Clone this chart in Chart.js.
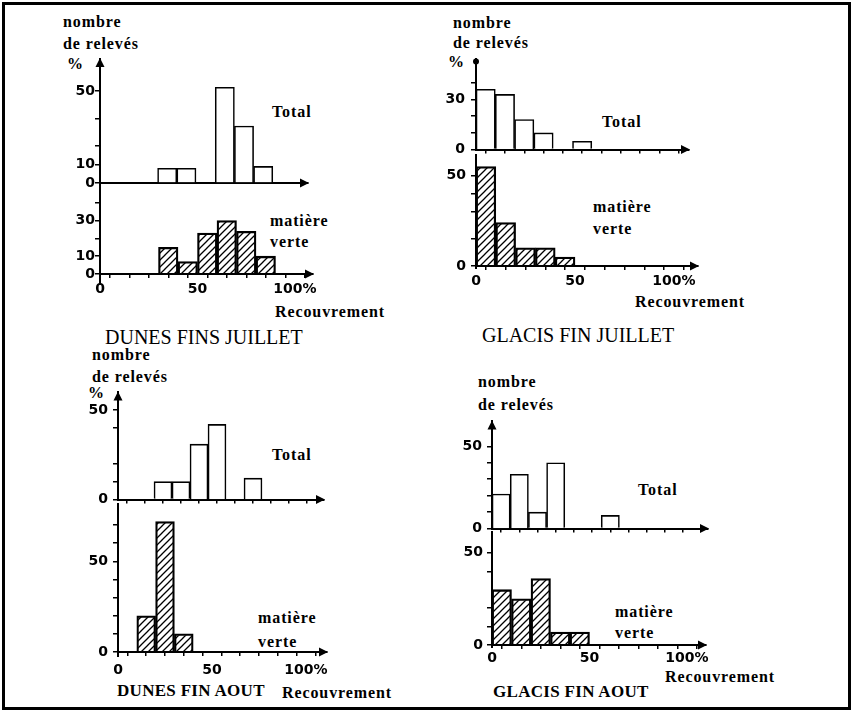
<!DOCTYPE html>
<html><head><meta charset="utf-8">
<script src="https://cdn.jsdelivr.net/npm/chart.js@4.4.0/dist/chart.umd.min.js"></script>
<style>
html,body{margin:0;padding:0;background:#fff;width:855px;height:714px;overflow:hidden;position:relative;}
#frame{position:absolute;left:2px;top:2px;width:849px;height:708px;border:3px solid #000;box-sizing:border-box;}
canvas{position:absolute;}
.t{position:absolute;white-space:nowrap;color:#000;line-height:1;transform:translateY(-50%);}
.lab{font-family:'Liberation Serif';font-weight:bold;font-size:16px;letter-spacing:0.9px;}
.ttl{font-family:'Liberation Serif';font-size:20px;}
.ttlb{font-family:'Liberation Serif';font-weight:bold;font-size:17px;letter-spacing:0.3px;}
</style></head><body>
<div id="frame"></div>
<script>
// ---- data (percent of relevés per 10% cover class) ----
const binStarts = [0,10,20,30,40,50,60,70,80,90];
const dunesJuilletTotal  = [0,0,0,8,8,0,52,31,9,0];
const dunesJuilletVerte  = [0,0,0,15,7,23,30,24,10,0];
const glacisJuilletTotal = [36,33,18,10,0,5,0,0,0,0];
const glacisJuilletVerte = [55,24,10,10,5,0,0,0,0,0];
const dunesAoutTotal     = [0,0,10,10,31,42,0,12,0,0];
const dunesAoutVerte     = [0,20,72,10,0,0,0,0,0,0];
const glacisAoutTotal    = [21,33,10,40,0,0,8,0,0,0];
const glacisAoutVerte    = [30,25,36,7,7,0,0,0,0,0];

// ---- ticks ----
const xTickValues = [0,10,20,30,40,50,60,70,80,90,100];
const xTickLabels = {0:'0', 50:'50', 100:'100%'};
const djTotalYTicks = [0,10,20,35,50];   const djTotalYLabels = [0,10,50];
const djVerteYTicks = [0,10,20,30,40];   const djVerteYLabels = [0,10,30];
const gjTotalYTicks = [0,10,20,30,40];   const gjTotalYLabels = [0,30];
const gjVerteYTicks = [0,15,30,40,50];   const gjVerteYLabels = [0,50];
const daTotalYTicks = [0,10,20,40,50];   const daTotalYLabels = [0,50];
const daVerteYTicks = [0,10,20,30,40,50,60,70]; const daVerteYLabels = [0,50];
const gaTotalYTicks = [0,10,20,30,40,50]; const gaTotalYLabels = [0,50];
const gaVerteYTicks = [0,10,20,40,50];   const gaVerteYLabels = [0,50];

// ---- layout (pixel geometry of each small plot) ----
const plots = [
 {vals:dunesJuilletTotal, hatch:false, yT:djTotalYTicks, yL:djTotalYLabels, xlab:false, xmarks:false, top:'arrow', ext:0,
  x0:100, xPx:1.92, xEnd:308, y0:183, yPx:1.84, yTop:59, yPad:0, xPad:3},
 {vals:dunesJuilletVerte, hatch:true, yT:djVerteYTicks, yL:djVerteYLabels, xlab:true, xmarks:true, top:'none', ext:11,
  x0:100, xPx:1.95, xEnd:313, y0:274, yPx:1.78, yTop:183, yPad:0, xPad:3},
 {vals:glacisJuilletTotal, hatch:false, yT:gjTotalYTicks, yL:gjTotalYLabels, xlab:false, xmarks:true, top:'dot', ext:0,
  x0:476, xPx:1.93, xEnd:689, y0:154, yPx:1.8, yTop:57, yPad:6, xPad:3},
 {vals:glacisJuilletVerte, hatch:true, yT:gjVerteYTicks, yL:gjVerteYLabels, xlab:true, xmarks:true, top:'none', ext:3,
  x0:476, xPx:1.98, xEnd:698, y0:266, yPx:1.83, yTop:154, yPad:5, xPad:3},
 {vals:dunesAoutTotal, hatch:false, yT:daTotalYTicks, yL:daTotalYLabels, xlab:false, xmarks:true, top:'arrow', ext:0,
  x0:118, xPx:1.8, xEnd:324, y0:503, yPx:1.87, yTop:391, yPad:5, xPad:3},
 {vals:dunesAoutVerte, hatch:true, yT:daVerteYTicks, yL:daVerteYLabels, xlab:true, xmarks:true, top:'none', ext:5,
  x0:118, xPx:1.88, xEnd:327, y0:652, yPx:1.83, yTop:503, yPad:5, xPad:6},
 {vals:glacisAoutTotal, hatch:false, yT:gaTotalYTicks, yL:gaTotalYLabels, xlab:false, xmarks:true, top:'arrow', ext:0,
  x0:492, xPx:1.82, xEnd:708, y0:532, yPx:1.72, yTop:420, yPad:5, xPad:3},
 {vals:glacisAoutVerte, hatch:true, yT:gaVerteYTicks, yL:gaVerteYLabels, xlab:true, xmarks:true, top:'none', ext:3,
  x0:492, xPx:1.95, xEnd:706, y0:645, yPx:1.85, yTop:532, yPad:4, xPad:1}
];

const texts = [
 ['lab','nombre',63,22],['lab','de relevés',63,44],['lab','%',67,64],
 ['lab','Total',272,112],['lab','matière',270,221],['lab','verte',270,242],
 ['lab','Recouvrement',275,312],['ttl','DUNES FINS JUILLET',105,337],
 ['lab','nombre',453,23],['lab','de relevés',453,43],['lab','%',448,62],
 ['lab','Total',602,122],['lab','matière',593,207],['lab','verte',593,229],
 ['lab','Recouvrement',635,302],['ttl','GLACIS FIN JUILLET',482,335],
 ['lab','nombre',92,355],['lab','de relevés',92,377],['lab','%',88,393],
 ['lab','Total',272,455],['lab','matière',258,618],['lab','verte',258,642],
 ['ttlb','DUNES FIN AOUT',117,690],['lab','Recouvrement',282,693],
 ['lab','nombre',478,382],['lab','de relevés',478,405],
 ['lab','Total',638,490],['lab','matière',615,612],['lab','verte',615,633],
 ['ttlb','GLACIS FIN AOUT',493,691],['lab','Recouvrement',665,677]
];
texts.forEach(([cls,s,x,y])=>{const d=document.createElement('div');d.className='t '+cls;d.textContent=s;d.style.left=x+'px';d.style.top=y+'px';document.body.appendChild(d);});

const axisDeco = {
  id:'axisDeco',
  afterDraw(chart, args, o){
    const {ctx, chartArea:a, scales:{y}} = chart;
    const by = y.getPixelForValue(0);
    ctx.save(); ctx.fillStyle='#000'; ctx.strokeStyle='#000'; ctx.lineWidth=2;
    ctx.beginPath(); ctx.moveTo(a.right+1, by); ctx.lineTo(a.right-8, by-4.5); ctx.lineTo(a.right-8, by+4.5); ctx.closePath(); ctx.fill();
    if (o.top==='arrow'){ctx.beginPath(); ctx.moveTo(a.left, a.top-1); ctx.lineTo(a.left-4.5, a.top+8); ctx.lineTo(a.left+4.5, a.top+8); ctx.closePath(); ctx.fill();}
    if (o.top==='dot'){ctx.beginPath(); ctx.arc(a.left, a.top+2, 3, 0, Math.PI*2); ctx.fill();}
    if (o.ext){ctx.beginPath(); ctx.moveTo(a.left, by); ctx.lineTo(a.left, by+o.ext); ctx.stroke();}
    ctx.restore();
  }
};

function makePattern(ctx){
  const c=document.createElement('canvas'); c.width=7; c.height=7;
  const g=c.getContext('2d'); g.strokeStyle='#000'; g.lineWidth=1.3;
  g.beginPath(); g.moveTo(-1,8); g.lineTo(8,-1); g.moveTo(-4,4); g.lineTo(4,-4); g.moveTo(3,11); g.lineTo(11,3); g.stroke();
  return ctx.createPattern(c,'repeat');
}

const YW=40, PT=12, PR=30;
plots.forEach(p=>{
  const XH = p.xlab ? 34 : 10;
  const w = p.xEnd - p.x0, h = p.y0 - p.yTop;
  const cv = document.createElement('canvas');
  cv.width = Math.round(YW + w + PR); cv.height = Math.round(PT + h + XH);
  cv.style.left = (p.x0 - YW)+'px'; cv.style.top = (p.yTop - PT)+'px';
  document.body.appendChild(cv);
  const ctx = cv.getContext('2d');
  const fill = p.hatch ? makePattern(ctx) : '#fff';
  new Chart(ctx, {
    type:'bar',
    data:{datasets:[{data: binStarts.map((b,i)=>({x:b+5, y: p.vals[i] ? p.vals[i] : null})),
      backgroundColor: fill, borderColor:'#000', borderWidth:1.6, borderSkipped:'start',
      barPercentage:1, categoryPercentage:1}]},
    options:{
      responsive:false, animation:false, devicePixelRatio:1,
      layout:{padding:{left:0, top:PT, right:PR, bottom:0}},
      plugins:{legend:{display:false}, tooltip:{enabled:false}, axisDeco:{top:p.top, ext:p.ext}},
      scales:{
        x:{type:'linear', min:0, max:w/p.xPx, offset:false,
           afterBuildTicks:s=>{s.ticks = xTickValues.map(v=>({value:v}));},
           afterFit:s=>{s.height = XH;},
           grid:{drawOnChartArea:false, drawTicks:p.xmarks, tickLength:4, color:'#000', lineWidth:1.5},
           border:{display:true, color:'#000', width:2},
           ticks:{display:p.xlab, autoSkip:false, maxRotation:0, padding:p.xPad, color:'#000',
             font:{family:'DejaVu Sans', weight:'bold', size:14},
             callback:v=> (v in xTickLabels) ? xTickLabels[v] : ''}},
        y:{type:'linear', min:0, max:h/p.yPx,
           afterBuildTicks:s=>{s.ticks = p.yT.map(v=>({value:v}));},
           afterFit:s=>{s.width = YW;},
           grid:{drawOnChartArea:false, drawTicks:true, tickLength:5, color:'#000', lineWidth:1.5},
           border:{display:true, color:'#000', width:2},
           ticks:{autoSkip:false, padding:p.yPad, color:'#000',
             font:{family:'DejaVu Sans', weight:'bold', size:14},
             callback:v=> p.yL.includes(v) ? String(v) : ''}}
      }
    },
    plugins:[axisDeco]
  });
});
</script>
</body></html>
